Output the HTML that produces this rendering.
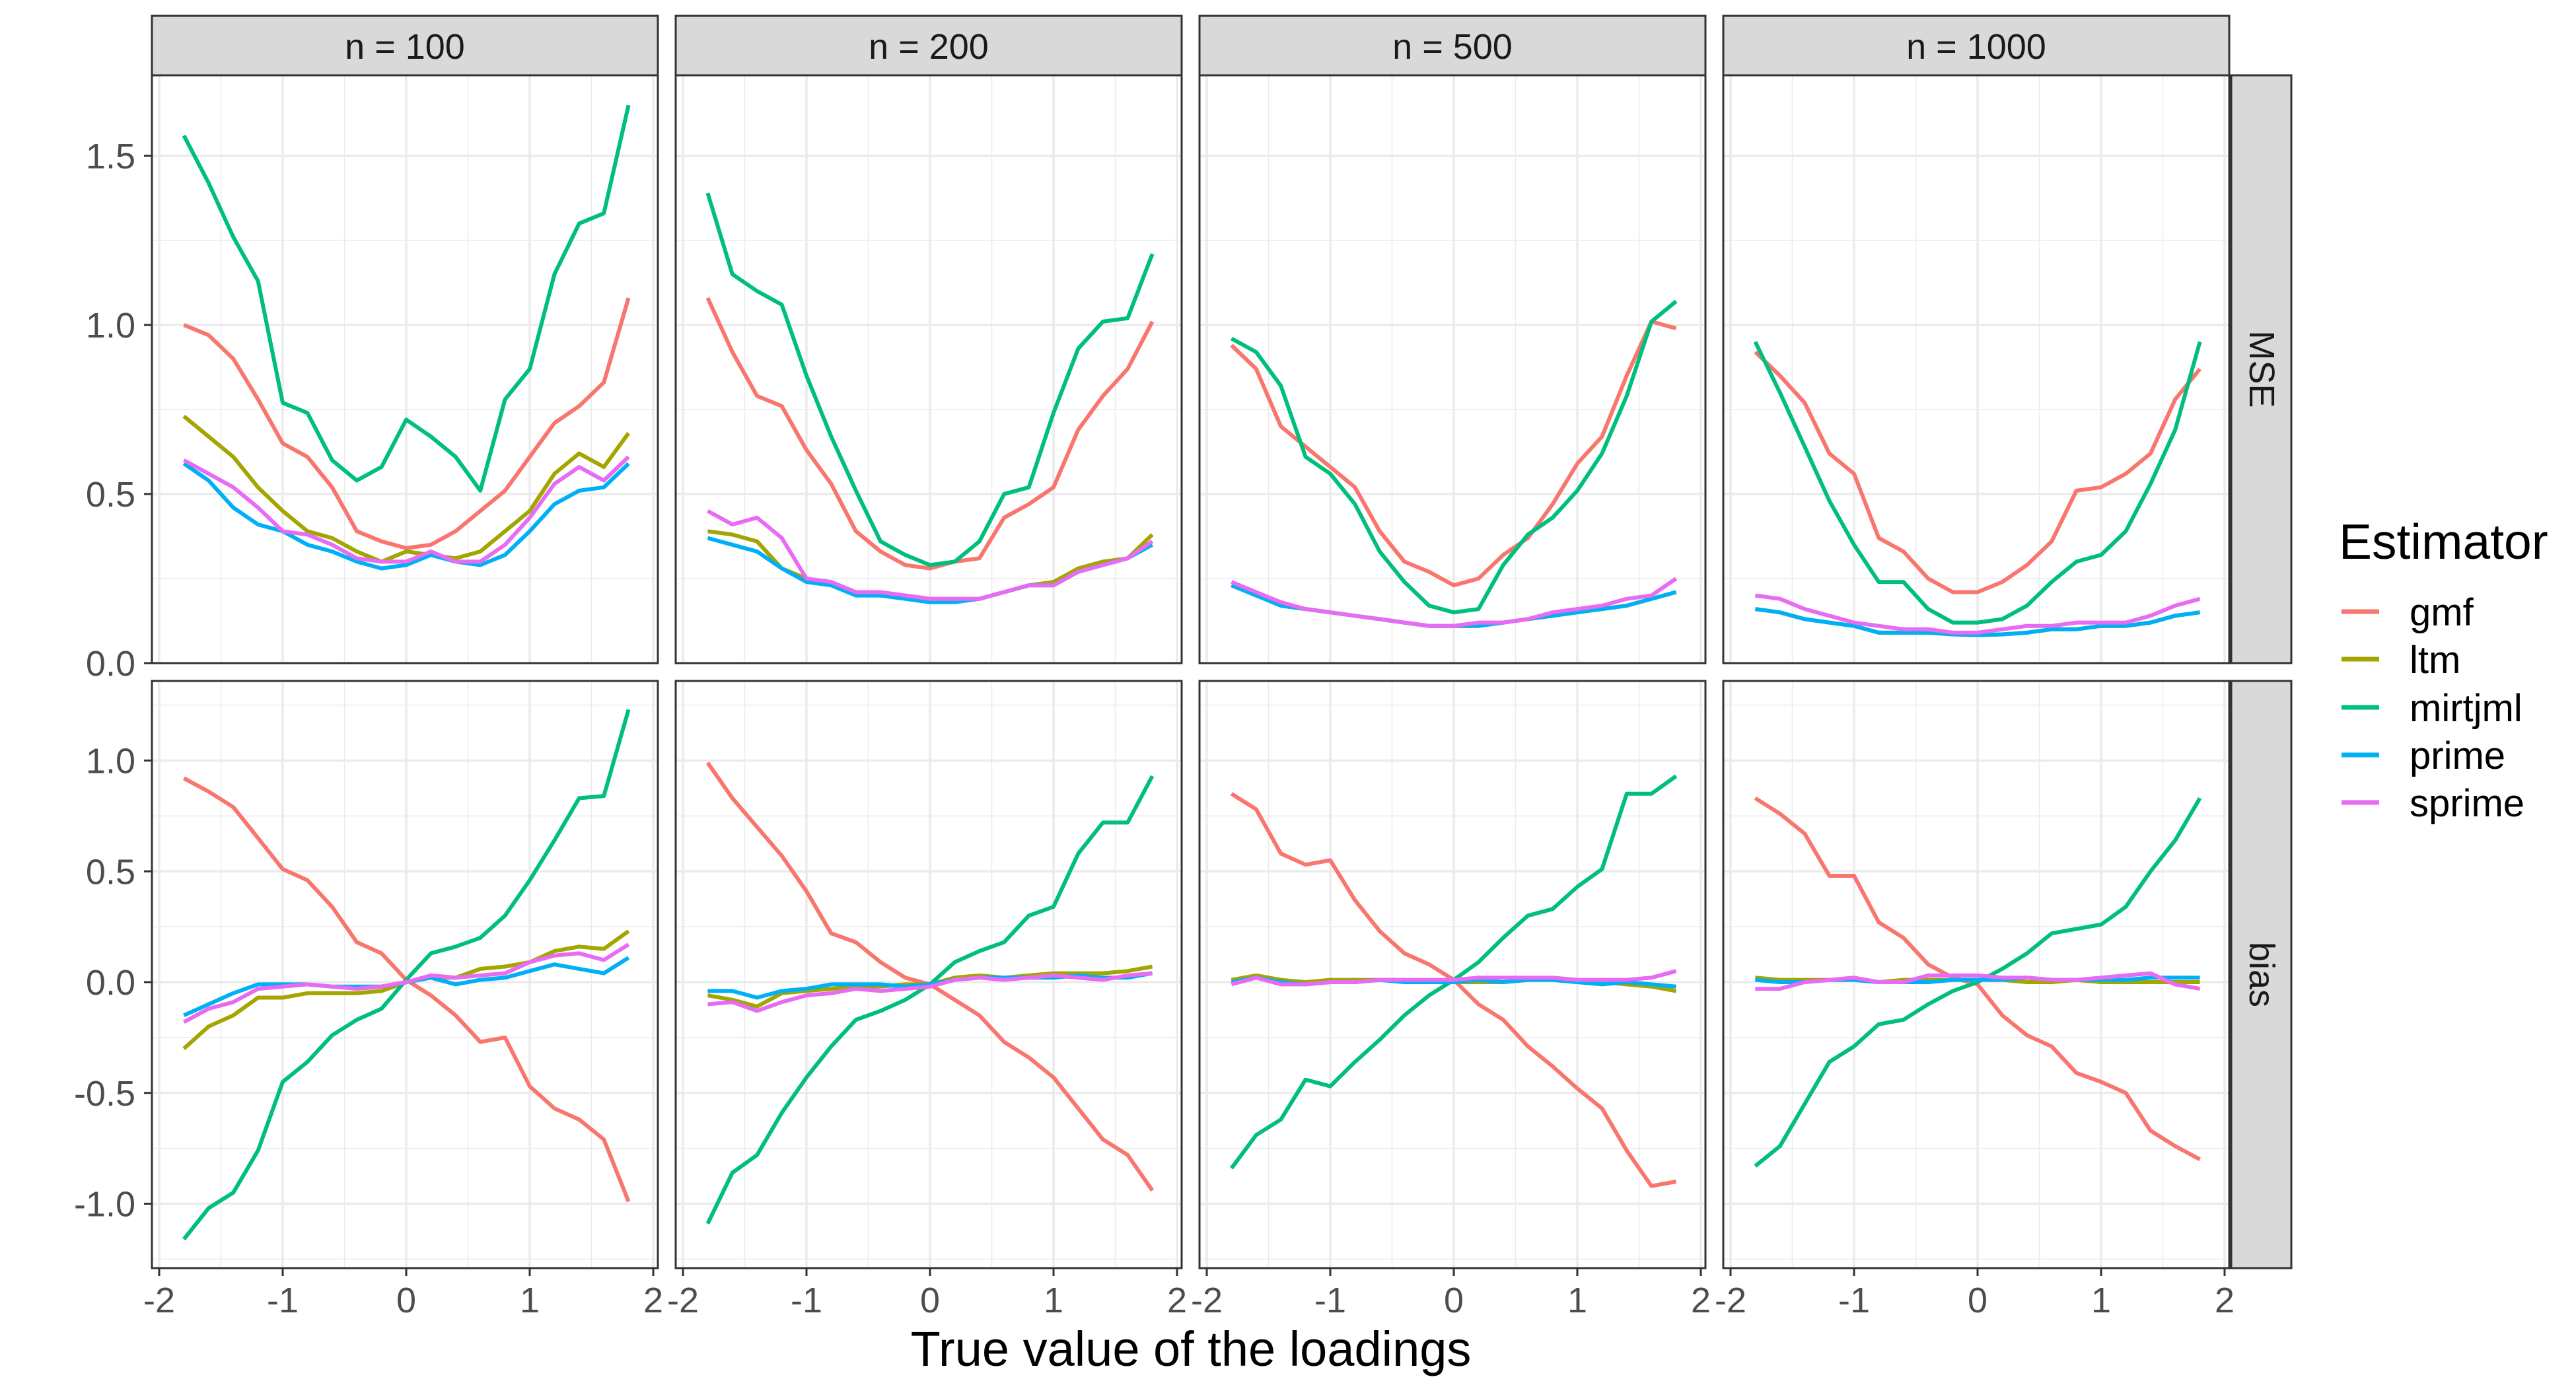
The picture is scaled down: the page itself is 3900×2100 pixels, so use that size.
<!DOCTYPE html>
<html><head><meta charset="utf-8"><style>
html,body{margin:0;padding:0;background:#fff;}
svg{display:block;}
text{font-family:"Liberation Sans",Arial,sans-serif;}
</style></head><body>
<svg id="chart" xmlns="http://www.w3.org/2000/svg" width="3900" height="2100" viewBox="0 0 3900 2100">
<rect x="0" y="0" width="3900" height="2100" fill="#fff"/>
<g id="grid"></g><g id="lines"></g><g id="frames"></g><g id="labels"></g>
<text x="1803" y="2068" font-size="74" text-anchor="middle" fill="#000">True value of the loadings</text>
<g id="legend">
<text x="3541" y="846" font-size="75" fill="#000">Estimator</text>
</g>
</svg>
<script>
const xs = [-1.8,-1.6,-1.4,-1.2,-1.0,-0.8,-0.6,-0.4,-0.2,0,0.2,0.4,0.6,0.8,1.0,1.2,1.4,1.6,1.8];
const estimators = ["gmf","ltm","mirtjml","prime","sprime"];
const panelNs = ["n = 100","n = 200","n = 500","n = 1000"];
const rowNames = ["MSE","bias"];
const xTicks = [-2,-1,0,1,2];
const yTicksMSE = [0,0.5,1.0,1.5];
const yTickLabelsMSE = ["0.0","0.5","1.0","1.5"];
const yTicksBias = [-1,-0.5,0,0.5,1];
const yTickLabelsBias = ["-1.0","-0.5","0.0","0.5","1.0"];

// MSE n=100
const mse100_gmf = [1.0,0.97,0.90,0.78,0.65,0.61,0.52,0.39,0.36,0.34,0.35,0.39,0.45,0.51,0.61,0.71,0.76,0.83,1.08];
const mse100_ltm = [0.73,0.67,0.61,0.52,0.45,0.39,0.37,0.33,0.30,0.33,0.32,0.31,0.33,0.39,0.45,0.56,0.62,0.58,0.68];
const mse100_mirtjml = [1.56,1.42,1.26,1.13,0.77,0.74,0.60,0.54,0.58,0.72,0.67,0.61,0.51,0.78,0.87,1.15,1.30,1.33,1.65];
const mse100_prime = [0.59,0.54,0.46,0.41,0.39,0.35,0.33,0.30,0.28,0.29,0.32,0.30,0.29,0.32,0.39,0.47,0.51,0.52,0.59];
const mse100_sprime = [0.60,0.56,0.52,0.46,0.39,0.38,0.35,0.31,0.30,0.30,0.33,0.30,0.30,0.35,0.43,0.53,0.58,0.54,0.61];
// MSE n=200
const mse200_gmf = [1.08,0.92,0.79,0.76,0.63,0.53,0.39,0.33,0.29,0.28,0.30,0.31,0.43,0.47,0.52,0.69,0.79,0.87,1.01];
const mse200_ltm = [0.39,0.38,0.36,0.28,0.25,0.23,0.21,0.20,0.20,0.19,0.19,0.19,0.21,0.23,0.24,0.28,0.30,0.31,0.38];
const mse200_mirtjml = [1.39,1.15,1.10,1.06,0.85,0.67,0.51,0.36,0.32,0.29,0.30,0.36,0.50,0.52,0.74,0.93,1.01,1.02,1.21];
const mse200_prime = [0.37,0.35,0.33,0.28,0.24,0.23,0.20,0.20,0.19,0.18,0.18,0.19,0.21,0.23,0.23,0.27,0.29,0.31,0.35];
const mse200_sprime = [0.45,0.41,0.43,0.37,0.25,0.24,0.21,0.21,0.20,0.19,0.19,0.19,0.21,0.23,0.23,0.27,0.29,0.31,0.36];
// MSE n=500
const mse500_gmf = [0.94,0.87,0.70,0.64,0.58,0.52,0.39,0.30,0.27,0.23,0.25,0.32,0.37,0.47,0.59,0.67,0.85,1.01,0.99];
const mse500_ltm = [0.23,0.20,0.17,0.16,0.15,0.14,0.13,0.12,0.11,0.11,0.11,0.12,0.13,0.14,0.15,0.16,0.17,0.19,0.21];
const mse500_mirtjml = [0.96,0.92,0.82,0.61,0.56,0.47,0.33,0.24,0.17,0.15,0.16,0.29,0.38,0.43,0.51,0.62,0.79,1.01,1.07];
const mse500_prime = [0.23,0.20,0.17,0.16,0.15,0.14,0.13,0.12,0.11,0.11,0.11,0.12,0.13,0.14,0.15,0.16,0.17,0.19,0.21];
const mse500_sprime = [0.24,0.21,0.18,0.16,0.15,0.14,0.13,0.12,0.11,0.11,0.12,0.12,0.13,0.15,0.16,0.17,0.19,0.20,0.25];
// MSE n=1000
const mse1000_gmf = [0.92,0.85,0.77,0.62,0.56,0.37,0.33,0.25,0.21,0.21,0.24,0.29,0.36,0.51,0.52,0.56,0.62,0.78,0.87];
const mse1000_ltm = [0.16,0.15,0.13,0.12,0.11,0.09,0.09,0.09,0.085,0.083,0.085,0.09,0.10,0.10,0.11,0.11,0.12,0.14,0.15];
const mse1000_mirtjml = [0.95,0.80,0.64,0.48,0.35,0.24,0.24,0.16,0.12,0.12,0.13,0.17,0.24,0.30,0.32,0.39,0.53,0.69,0.95];
const mse1000_prime = [0.16,0.15,0.13,0.12,0.11,0.09,0.09,0.09,0.085,0.083,0.085,0.09,0.10,0.10,0.11,0.11,0.12,0.14,0.15];
const mse1000_sprime = [0.20,0.19,0.16,0.14,0.12,0.11,0.10,0.10,0.09,0.09,0.10,0.11,0.11,0.12,0.12,0.12,0.14,0.17,0.19];
// bias n=100
const bias100_gmf = [0.92,0.86,0.79,0.65,0.51,0.46,0.34,0.18,0.13,0.01,-0.06,-0.15,-0.27,-0.25,-0.47,-0.57,-0.62,-0.71,-0.99];
const bias100_ltm = [-0.30,-0.20,-0.15,-0.07,-0.07,-0.05,-0.05,-0.05,-0.04,0,0.02,0.02,0.06,0.07,0.09,0.14,0.16,0.15,0.23];
const bias100_mirtjml = [-1.16,-1.02,-0.95,-0.76,-0.45,-0.36,-0.24,-0.17,-0.12,0.01,0.13,0.16,0.20,0.30,0.46,0.64,0.83,0.84,1.23];
const bias100_prime = [-0.15,-0.10,-0.05,-0.01,-0.01,-0.01,-0.02,-0.02,-0.02,0,0.02,-0.01,0.01,0.02,0.05,0.08,0.06,0.04,0.11];
const bias100_sprime = [-0.18,-0.12,-0.09,-0.03,-0.02,-0.01,-0.02,-0.03,-0.02,0,0.03,0.02,0.03,0.04,0.09,0.12,0.13,0.10,0.17];
// bias n=200
const bias200_gmf = [0.99,0.83,0.70,0.57,0.41,0.22,0.18,0.09,0.02,-0.01,-0.08,-0.15,-0.27,-0.34,-0.43,-0.57,-0.71,-0.78,-0.94];
const bias200_ltm = [-0.06,-0.08,-0.11,-0.05,-0.04,-0.03,-0.02,-0.02,-0.01,-0.01,0.02,0.03,0.02,0.03,0.04,0.04,0.04,0.05,0.07];
const bias200_mirtjml = [-1.09,-0.86,-0.78,-0.59,-0.43,-0.29,-0.17,-0.13,-0.08,-0.01,0.09,0.14,0.18,0.30,0.34,0.58,0.72,0.72,0.93];
const bias200_prime = [-0.04,-0.04,-0.07,-0.04,-0.03,-0.01,-0.01,-0.01,-0.02,-0.01,0.01,0.02,0.02,0.02,0.02,0.03,0.02,0.02,0.04];
const bias200_sprime = [-0.10,-0.09,-0.13,-0.09,-0.06,-0.05,-0.03,-0.04,-0.03,-0.02,0.01,0.02,0.01,0.02,0.03,0.02,0.01,0.03,0.04];
// bias n=500
const bias500_gmf = [0.85,0.78,0.58,0.53,0.55,0.37,0.23,0.13,0.08,0.01,-0.10,-0.17,-0.29,-0.38,-0.48,-0.57,-0.76,-0.92,-0.90];
const bias500_ltm = [0.01,0.03,0.01,0.0,0.01,0.01,0.01,0.01,0.0,0.0,0.0,0.0,0.01,0.01,0.0,0.0,-0.01,-0.02,-0.04];
const bias500_mirtjml = [-0.84,-0.69,-0.62,-0.44,-0.47,-0.36,-0.26,-0.15,-0.06,0.01,0.09,0.20,0.30,0.33,0.43,0.51,0.85,0.85,0.93];
const bias500_prime = [0.0,0.02,0.0,-0.01,0.0,0.0,0.01,0.0,0.0,0.0,0.01,0.0,0.01,0.01,0.0,-0.01,0.0,-0.01,-0.02];
const bias500_sprime = [-0.01,0.02,-0.01,-0.01,0.0,0.0,0.01,0.01,0.01,0.01,0.02,0.02,0.02,0.02,0.01,0.01,0.01,0.02,0.05];
// bias n=1000
const bias1000_gmf = [0.83,0.76,0.67,0.48,0.48,0.27,0.20,0.08,0.02,-0.01,-0.15,-0.24,-0.29,-0.41,-0.45,-0.50,-0.67,-0.74,-0.80];
const bias1000_ltm = [0.02,0.01,0.01,0.01,0.01,0.0,0.01,0.01,0.01,0.01,0.01,0.0,0.0,0.01,0.0,0.0,0.0,0.0,0.0];
const bias1000_mirtjml = [-0.83,-0.74,-0.55,-0.36,-0.29,-0.19,-0.17,-0.10,-0.04,0.0,0.06,0.13,0.22,0.24,0.26,0.34,0.50,0.64,0.83];
const bias1000_prime = [0.01,0.0,0.0,0.01,0.01,0.0,0.0,0.0,0.01,0.01,0.01,0.02,0.01,0.01,0.01,0.01,0.02,0.02,0.02];
const bias1000_sprime = [-0.03,-0.03,0.0,0.01,0.02,0.0,0.0,0.03,0.03,0.03,0.02,0.02,0.01,0.01,0.02,0.03,0.04,-0.01,-0.03];

const colors = {gmf:"#F8766D",ltm:"#A3A500",mirtjml:"#00BF7D",prime:"#00B0F6",sprime:"#E76BF3"};
const seriesMSE = [
 {gmf:mse100_gmf,ltm:mse100_ltm,mirtjml:mse100_mirtjml,prime:mse100_prime,sprime:mse100_sprime},
 {gmf:mse200_gmf,ltm:mse200_ltm,mirtjml:mse200_mirtjml,prime:mse200_prime,sprime:mse200_sprime},
 {gmf:mse500_gmf,ltm:mse500_ltm,mirtjml:mse500_mirtjml,prime:mse500_prime,sprime:mse500_sprime},
 {gmf:mse1000_gmf,ltm:mse1000_ltm,mirtjml:mse1000_mirtjml,prime:mse1000_prime,sprime:mse1000_sprime}];
const seriesBias = [
 {gmf:bias100_gmf,ltm:bias100_ltm,mirtjml:bias100_mirtjml,prime:bias100_prime,sprime:bias100_sprime},
 {gmf:bias200_gmf,ltm:bias200_ltm,mirtjml:bias200_mirtjml,prime:bias200_prime,sprime:bias200_sprime},
 {gmf:bias500_gmf,ltm:bias500_ltm,mirtjml:bias500_mirtjml,prime:bias500_prime,sprime:bias500_sprime},
 {gmf:bias1000_gmf,ltm:bias1000_ltm,mirtjml:bias1000_mirtjml,prime:bias1000_prime,sprime:bias1000_sprime}];

const NS="http://www.w3.org/2000/svg";
function mk(tag, attrs, parent){const e=document.createElementNS(NS,tag);for(const k in attrs)e.setAttribute(k,attrs[k]);parent.appendChild(e);return e;}
const gGrid=document.getElementById('grid'),gLines=document.getElementById('lines'),gFrames=document.getElementById('frames'),gLab=document.getElementById('labels'),gLeg=document.getElementById('legend');

const panelLeft=[230,1023,1816,2609], panelW=766;
const rows=[{top:114,bottom:1004,y0:1004,unit:512,major:yTicksMSE,labels:yTickLabelsMSE,minor:[0.25,0.75,1.25],data:seriesMSE},
            {top:1031,bottom:1920,y0:1487,unit:335.5,major:yTicksBias,labels:yTickLabelsBias,minor:[-1.25,-0.75,-0.25,0.25,0.75,1.25],data:seriesBias}];
function xScale(p,v){return panelLeft[p]+385+187*v;}
function yScale(r,v){return rows[r].y0-rows[r].unit*v;}

for(let r=0;r<2;r++){
 const R=rows[r];
 for(let p=0;p<4;p++){
  const L=panelLeft[p];
  for(const m of R.minor){const y=yScale(r,m);
   const e=mk('line',{x1:L,x2:L+panelW,y1:y,y2:y,stroke:'#EBEBEB','stroke-width':1.5},gGrid);
   }
  for(const m of [-1.5,-0.5,0.5,1.5]){const x=xScale(p,m);
   const e=mk('line',{x1:x,x2:x,y1:R.top,y2:R.bottom,stroke:'#EBEBEB','stroke-width':1.5},gGrid);
   }
  for(const m of R.major){const y=yScale(r,m);
   const e=mk('line',{x1:L,x2:L+panelW,y1:y,y2:y,stroke:'#EBEBEB','stroke-width':3.5},gGrid);
   }
  for(const m of xTicks){const x=xScale(p,m);
   const e=mk('line',{x1:x,x2:x,y1:R.top,y2:R.bottom,stroke:'#EBEBEB','stroke-width':3.5},gGrid);
   }
  for(const est of estimators){
   const vals=R.data[p][est];
   const pts=xs.map((x,i)=>xScale(p,x).toFixed(1)+','+yScale(r,vals[i]).toFixed(1)).join(' ');
   const e=mk('polyline',{points:pts,fill:'none',stroke:colors[est],'stroke-width':6,'stroke-linejoin':'round'},gLines);
   
   
  }
  const fr=mk('rect',{x:L,y:R.top,width:panelW,height:R.bottom-R.top,fill:'none',stroke:'#333','stroke-width':3},gFrames);
  
 }
 // y ticks and labels (left column)
 R.major.forEach((m,i)=>{const y=yScale(r,m);
  const t=mk('line',{x1:218,x2:230,y1:y,y2:y,stroke:'#333','stroke-width':3},gLab);
  
  const tx=mk('text',{x:205,y:y+19,'font-size':54,'text-anchor':'end',fill:'#4D4D4D'},gLab);
  tx.textContent=R.labels[i];
  });
 // right strip
 const s=mk('rect',{x:3378,y:R.top,width:91,height:R.bottom-R.top,fill:'#D9D9D9',stroke:'#333','stroke-width':3},gFrames);
 
 const cy=(R.top+R.bottom)/2;
 const st=mk('text',{x:3424,y:cy,'font-size':54,'text-anchor':'middle','dominant-baseline':'central',fill:'#1A1A1A',transform:'rotate(90 3424 '+cy+')'},gLab);
 st.textContent=rowNames[r];
 
}
// top strips and x ticks
for(let p=0;p<4;p++){
 const L=panelLeft[p];
 const s=mk('rect',{x:L,y:24,width:panelW,height:90,fill:'#D9D9D9',stroke:'#333','stroke-width':3},gFrames);
 
 const st=mk('text',{x:L+panelW/2,y:89,'font-size':54,'text-anchor':'middle',fill:'#1A1A1A'},gLab);
 st.textContent=panelNs[p];
 
 for(const m of xTicks){const x=xScale(p,m);
  const t=mk('line',{x1:x,x2:x,y1:1920,y2:1932,stroke:'#333','stroke-width':3},gLab);
  
  const tx=mk('text',{x:x,y:1987,'font-size':54,'text-anchor':'middle',fill:'#4D4D4D'},gLab);
  tx.textContent=String(m);
  }
}
// legend
const legY=[926,998,1071,1143,1215];
estimators.forEach((est,i)=>{
 const l=mk('line',{x1:3545,x2:3602,y1:legY[i],y2:legY[i],stroke:colors[est],'stroke-width':7},gLeg);
 
 const t=mk('text',{x:3648,y:legY[i]+21,'font-size':58,fill:'#000'},gLeg);
 t.textContent=est;
 
});
</script>
</body></html>
